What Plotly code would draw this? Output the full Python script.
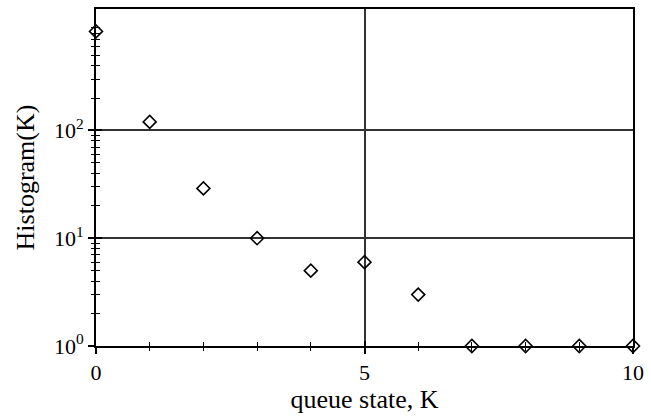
import plotly.graph_objects as go

# queue state K and its histogram count
states = [0, 1, 2, 3, 4, 5, 6, 7, 8, 9, 10]
counts = [830, 120, 29, 10, 5, 6, 3, 1, 1, 1, 1]

x_major = [0, 5, 10]
x_minor = [1, 2, 3, 4, 6, 7, 8, 9]
y_major = [1, 10, 100]
y_major_text = ["10<sup>0</sup>", "10<sup>1</sup>", "10<sup>2</sup>"]
y_minor = [m * 10 ** k for k in range(3) for m in range(2, 10)]

FONT = "Liberation Serif"
INK = "black"
LOG_RANGE = [0, 3.127]

fig = go.Figure()
fig.add_trace(go.Scatter(
    x=states, y=counts, mode="markers",
    marker=dict(symbol="diamond-open", size=10, color=INK, line=dict(width=1.6, color=INK)),
    cliponaxis=False, showlegend=False,
))
# invisible trace that anchors the overlay axes carrying inward ticks
fig.add_trace(go.Scatter(x=[None], y=[None], xaxis="x2", yaxis="y2", showlegend=False))

common_line = dict(showline=True, linecolor=INK, linewidth=1.6, zeroline=False)

fig.update_layout(
    width=651, height=419,
    margin=dict(l=96, r=13, t=7, b=73),
    paper_bgcolor="white", plot_bgcolor="white",
    font=dict(family=FONT, size=22, color=INK),
    xaxis=dict(
        range=[0, 10], tickvals=x_major, ticktext=[str(v) for v in x_major],
        ticks="outside", ticklen=6, tickwidth=1.6, tickcolor=INK,
        showgrid=True, gridcolor="#333", gridwidth=1.6,
        minor=dict(tickvals=x_minor, ticks="outside", ticklen=3, tickwidth=1.2, tickcolor=INK, showgrid=False),
        mirror=True,
        title=dict(text="queue state, K", standoff=6),
        tickfont=dict(size=22),
        **common_line,
    ),
    yaxis=dict(
        type="log", range=LOG_RANGE, tickvals=y_major, ticktext=y_major_text,
        ticks="outside", ticklen=6, tickwidth=1.6, tickcolor=INK,
        showgrid=True, gridcolor="#333", gridwidth=1.6,
        minor=dict(tickvals=y_minor, ticks="outside", ticklen=3, tickwidth=1.2, tickcolor=INK, showgrid=False),
        mirror=True,
        title=dict(text="Histogram(K)", standoff=12),
        tickfont=dict(size=22),
        **common_line,
    ),
    xaxis2=dict(
        overlaying="x", range=[0, 10], tickvals=x_major, showticklabels=False,
        ticks="inside", ticklen=5, tickwidth=1.6, tickcolor=INK, showgrid=False,
        minor=dict(tickvals=x_minor, ticks="inside", ticklen=4, tickwidth=1.2, tickcolor=INK, showgrid=False),
        showline=False, zeroline=False, anchor="y2",
    ),
    yaxis2=dict(
        overlaying="y", type="log", range=LOG_RANGE, tickvals=y_major, showticklabels=False,
        ticks="inside", ticklen=6, tickwidth=1.6, tickcolor=INK, showgrid=False,
        minor=dict(tickvals=y_minor, ticks="inside", ticklen=4, tickwidth=1.2, tickcolor=INK, showgrid=False),
        showline=False, zeroline=False, anchor="x2",
    ),
)

fig.write_html("out.html")
